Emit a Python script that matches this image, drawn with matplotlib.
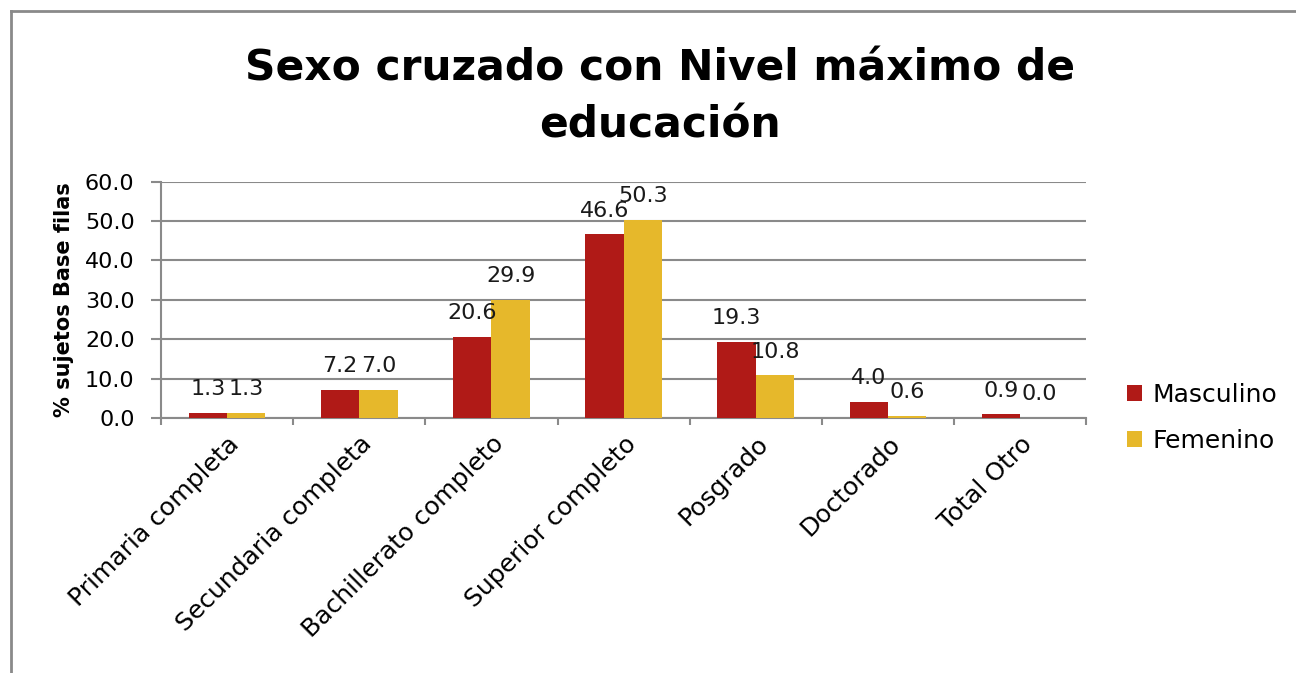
import numpy as np
import matplotlib.pyplot as plt
from matplotlib.lines import Line2D

categorias = ["Primaria completa", "Secundaria completa", "Bachillerato completo",
              "Superior completo", "Posgrado", "Doctorado", "Total Otro"]
masculino = [1.3, 7.2, 20.6, 46.6, 19.3, 4.0, 0.9]
femenino = [1.3, 7.0, 29.9, 50.3, 10.8, 0.6, 0.0]

plt.rcParams['font.family'] = ['DejaVu Sans']

fig = plt.figure(figsize=(12.96, 6.73), dpi=100)
ax = fig.add_axes([0.1242, 0.379, 0.714, 0.351])

x = np.arange(len(categorias))
w = 0.29
rojo = "#B01A17"
oro = "#E6B82B"
b1 = ax.bar(x - w / 2, masculino, w, color=rojo, label="Masculino", zorder=3)
b2 = ax.bar(x + w / 2, femenino, w, color=oro, label="Femenino", zorder=3)

for bars in (b1, b2):
    ax.bar_label(bars, labels=[f"{v:.1f}" for v in bars.datavalues],
                 padding=10, fontsize=16, color="#1a1a1a")

ax.set_ylim(0, 60)
ax.set_xlim(-0.5, len(categorias) - 0.5)
ax.set_yticks(np.arange(0, 61, 10))
ax.set_yticklabels([f"{v:.1f}" for v in np.arange(0, 61, 10)], fontsize=16)
ax.yaxis.grid(True, color="#8a8a8a", linewidth=1.5, zorder=0)
ax.set_axisbelow(True)

# ticks between categories, labels at centers
ax.set_xticks(np.arange(-0.5, len(categorias), 1.0))
ax.set_xticklabels([])
ax.set_xticks(x, minor=True)
ax.set_xticklabels(categorias, minor=True, rotation=45, ha="right",
                   rotation_mode="anchor", fontsize=18)
ax.tick_params(axis="x", which="minor", length=0, pad=10)
ax.tick_params(axis="x", which="major", length=5, color="#8a8a8a", width=1.5)
ax.tick_params(axis="y", length=7, color="#8a8a8a", width=1.5, pad=12)

for s in ("top", "right"):
    ax.spines[s].set_visible(False)
for s in ("left", "bottom"):
    ax.spines[s].set_color("#8a8a8a")
    ax.spines[s].set_linewidth(1.5)

ax.set_ylabel("% sujetos Base filas", fontsize=15, fontweight="bold", labelpad=8)

fig.text(0.509, 0.856, "Sexo cruzado con Nivel máximo de\neducación", ha="center",
         va="center", fontsize=30.5, fontweight="bold", linespacing=1.45)

ax.legend(loc="center left", bbox_to_anchor=(1.02, -0.0), frameon=False,
          fontsize=18, handlelength=0.6, handleheight=0.6, handletextpad=0.4,
          labelspacing=0.9)

# marco del gráfico
fig.add_artist(Line2D([11 / 1296, 11 / 1296], [0, 1 - 11 / 673], color="#8a8a8a", lw=2))
fig.add_artist(Line2D([11 / 1296, 1], [1 - 11 / 673, 1 - 11 / 673], color="#8a8a8a", lw=2))

fig.savefig("out.png", dpi=100)
